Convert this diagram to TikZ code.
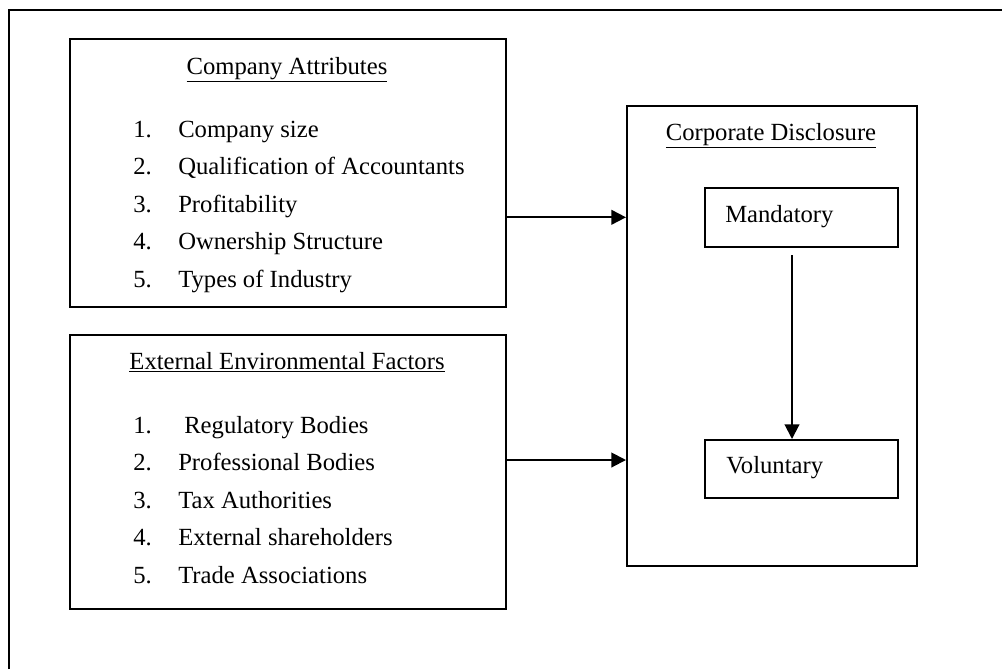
\documentclass[tikz,border=0pt]{standalone}
\usepackage{fontspec}
\setmainfont{Liberation Serif}
\usetikzlibrary{arrows.meta}

\tikzset{
  box/.style={draw, line width=1.5pt, anchor=north west, inner sep=0pt},
  item/.style={anchor=base west, inner sep=0pt, font=\fontsize{18.5}{20}\selectfont},
  head/.style={anchor=base, inner sep=0pt, font=\fontsize{18.5}{20}\selectfont},
  arr/.style={line width=1.5pt, -{Triangle[length=11pt,width=11pt]}}
}

\begin{document}
\begin{tikzpicture}[x=0.75pt,y=0.75pt,yscale=-1,xscale=1]
\useasboundingbox (0,0) rectangle (1002,669);

%Outer frame
    \draw [line width=1.5pt] (9,669) -- (9,10) -- (1002,10) ;

%Boxes
    \node [box, minimum width=327pt, minimum height=201pt] (attr) at (69,38) {};
    \node [box, minimum width=327pt, minimum height=205.5pt] (ext) at (69,334) {};
    \node [box, line width=1.2pt, minimum width=217.5pt, minimum height=345pt] (disc) at (626,105) {};
    \node [box, line width=1.2pt, minimum width=144.75pt, minimum height=44.25pt] (mand) at (704,187) {};
    \node [box, line width=1.2pt, minimum width=144.75pt, minimum height=43.5pt] (vol) at (704,439) {};

% Text Node
    \node [head] (attrT) at (287,74) {\underline{Company Attributes}};
    \node [head] (extT) at (287,369) {\underline{External Environmental Factors}};
    \node [head] (discT) at (771,140) {\underline{Corporate Disclosure}};
    \node [item] (mandT) at (725,222) {Mandatory};
    \node [item] (volT) at (726,473) {Voluntary};

% Lists
    \foreach \n/\txt [count=\i] in {1/Company size, 2/Qualification of Accountants,
        3/Profitability, 4/Ownership Structure, 5/Types of Industry} {
      \node [item] (an\i) at (133,{137+37.5*(\i-1)}) {\n.};
      \node [item] (at\i) at (178,{137+37.5*(\i-1)}) {\txt};
    }
    \foreach \n/\txt [count=\i] in {1/Regulatory Bodies, 2/Professional Bodies,
        3/Tax Authorities, 4/External shareholders, 5/Trade Associations} {
      \node [item] (en\i) at (133,{433+37.5*(\i-1)}) {\n.};
      \node [item] (et\i) at ({\i==1 ? 184 : 178},{433+37.5*(\i-1)}) {\txt};
    }

%Arrows
    \draw [arr] (attr.east |- mand) -- (disc.west |- mand) ;
    \coordinate (extA) at (505,460) ;
    \draw [arr] (extA) -- (disc.west |- extA) ;
    \coordinate (down) at (792,255) ;
    \draw [arr] (down) -- (down |- vol.north) ;
\end{tikzpicture}
\end{document}
